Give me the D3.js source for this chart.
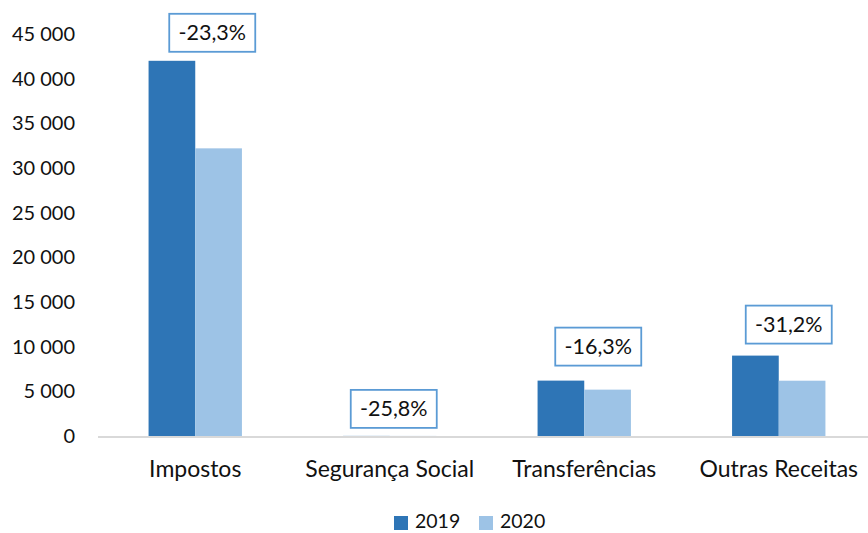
<!DOCTYPE html>
<html>
<head>
<meta charset="utf-8">
<script src="https://cdn.jsdelivr.net/npm/d3@7"></script>
<style>
  body { margin: 0; background: #fff; }
  svg text { font-family: Lato, "Open Sans", sans-serif; fill: #111; }
</style>
</head>
<body>
<div id="chart"></div>
<script>
const categories = ["Impostos", "Segurança Social", "Transferências", "Outras Receitas"];
const years = ["2019", "2020"];
const values2019 = [42000, 12, 6200, 9000];
const values2020 = [32200, 9, 5190, 6190];
const changeLabels = ["-23,3%", "-25,8%", "-16,3%", "-31,2%"];
const yTicks = [0, 5000, 10000, 15000, 20000, 25000, 30000, 35000, 40000, 45000];
// manual label nudges (px) like in the original, [dx, gap above bar]
const labelNudge = [[17, 9], [4, 8], [14, 15], [10, 12]];

const width = 868, height = 533;
const colors = { "2019": "#2E75B6", "2020": "#9DC3E6" };

const svg = d3.select("#chart").append("svg")
  .attr("width", width)
  .attr("height", height);

const x = d3.scaleBand()
  .domain(categories)
  .range([98, 876])
  .paddingInner(0.52)
  .paddingOuter(0.26);

const xYear = d3.scaleBand()
  .domain(years)
  .range([0, x.bandwidth()]);

const y = d3.scaleLinear()
  .domain([0, 45000])
  .range([436, 34]);

const fmt = (v) => d3.format(",")(v).replace(/,/g, " ");

// y labels
svg.append("g")
  .selectAll("text")
  .data(yTicks)
  .join("text")
  .attr("x", 75)
  .attr("y", (d) => y(d))
  .attr("dy", "0.35em")
  .attr("text-anchor", "end")
  .style("font-size", "20px")
  .text(fmt);

const rows = categories.map((c, i) => ({
  cat: c,
  vals: [
    { year: "2019", v: values2019[i] },
    { year: "2020", v: values2020[i] },
  ],
  label: changeLabels[i],
  nudge: labelNudge[i],
}));

const groups = svg.append("g")
  .selectAll("g")
  .data(rows)
  .join("g")
  .attr("transform", (d) => "translate(" + x(d.cat) + ",0)");

groups.selectAll("rect")
  .data((d) => d.vals)
  .join("rect")
  .attr("x", (d) => xYear(d.year))
  .attr("width", xYear.bandwidth())
  .attr("y", (d) => y(d.v))
  .attr("height", (d) => y(0) - y(d.v))
  .attr("fill", (d) => colors[d.year]);

// baseline
svg.append("line")
  .attr("x1", 98)
  .attr("x2", width)
  .attr("y1", y(0) + 1)
  .attr("y2", y(0) + 1)
  .attr("stroke", "#D9D9D9")
  .attr("stroke-width", 2);

// category labels
svg.append("g")
  .selectAll("text")
  .data(categories)
  .join("text")
  .attr("x", (d) => x(d) + x.bandwidth() / 2)
  .attr("y", 469)
  .attr("dy", "0.35em")
  .attr("text-anchor", "middle")
  .style("font-size", "23px")
  .text((d) => d);

// change labels in boxes
const boxW = 86, boxH = 38;
const lab = svg.append("g")
  .selectAll("g")
  .data(rows)
  .join("g")
  .attr("transform", (d) => {
    const cx = x(d.cat) + x.bandwidth() / 2 + d.nudge[0];
    const bottom = y(d.vals[0].v) - d.nudge[1];
    return "translate(" + cx + "," + (bottom - boxH / 2) + ")";
  });

lab.append("rect")
  .attr("x", -boxW / 2)
  .attr("y", -boxH / 2)
  .attr("width", boxW)
  .attr("height", boxH)
  .attr("fill", "#fff")
  .attr("stroke", "#5B9BD5")
  .attr("stroke-width", 1.8);

lab.append("text")
  .attr("text-anchor", "middle")
  .attr("dy", "0.35em")
  .style("font-size", "21.5px")
  .text((d) => d.label);

// legend
const legend = svg.append("g")
  .selectAll("g")
  .data(years)
  .join("g")
  .attr("transform", (d, i) => "translate(" + (394 + i * 85) + ",516)");

legend.append("rect")
  .attr("width", 14)
  .attr("height", 14)
  .attr("fill", (d) => colors[d]);

legend.append("text")
  .attr("x", 21)
  .attr("y", 12)
  .style("font-size", "19.5px")
  .text((d) => d);
</script>
</body>
</html>
